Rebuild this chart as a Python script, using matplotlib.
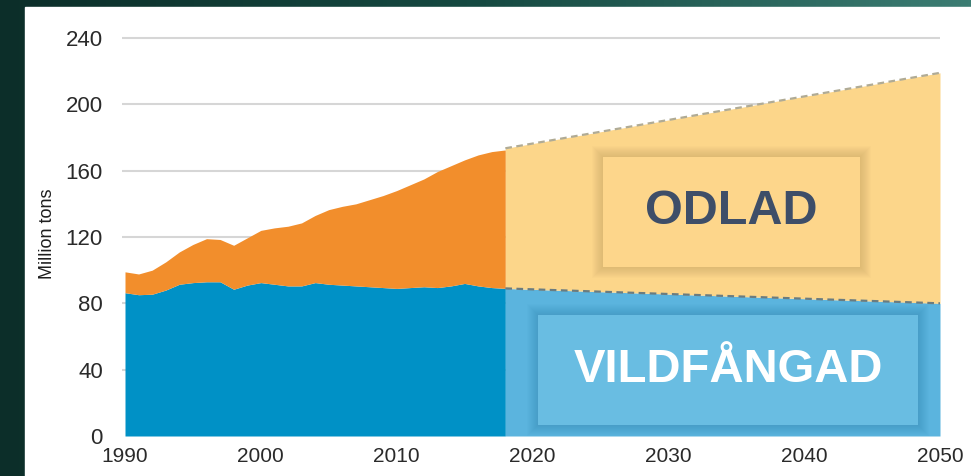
import numpy as np
import matplotlib
matplotlib.use('Agg')
import matplotlib.pyplot as plt
from matplotlib.patches import Rectangle
from matplotlib.colors import LinearSegmentedColormap

# data (million tons)
years = list(range(1990, 2019))
wild = [86.4, 85.2, 85.5, 88.0, 91.5, 92.5, 93.0, 93.0, 88.5, 91.0,
        92.5, 91.5, 90.5, 90.5, 92.5, 91.5, 91.0, 90.5, 90.0, 89.5,
        89.0, 89.5, 90.0, 89.5, 90.5, 92.0, 90.5, 89.5, 89.0]
farmed = [12.6, 12.5, 14.5, 17.0, 19.5, 23.0, 26.0, 25.5, 26.5, 28.5,
          31.5, 34.0, 36.0, 38.0, 40.5, 45.0, 47.5, 49.5, 52.5, 55.5,
          59.0, 62.0, 65.0, 70.0, 72.5, 74.5, 79.0, 82.0, 83.5]

proj_years = [2018, 2050]
proj_wild = [89.0, 80.0]
proj_farmed = [84.5, 139.0]

yticks = [0, 40, 80, 120, 160, 200, 240]
xticks = [1990, 2000, 2010, 2020, 2030, 2040, 2050]

W, H = 971, 476
fig = plt.figure(figsize=(W / 100, H / 100), dpi=100)

# dark green backdrop with a white panel
bg = fig.add_axes([0, 0, 1, 1])
grad = np.linspace(0, 1, 256)[None, :]
cm = LinearSegmentedColormap.from_list('g', ['#0c2e29', '#164a42', '#3c7d73'])
bg.imshow(grad, cmap=cm, aspect='auto', extent=[0, 1, 0, 1])
bg.add_patch(Rectangle((25 / W, 0), 1, 1 - 7 / H, color='white'))
bg.set_xlim(0, 1)
bg.set_ylim(0, 1)
bg.axis('off')

ax = fig.add_axes([125 / W, (H - 436) / H, 815 / W, 398 / H])
ax.set_facecolor('none')
ax.set_xlim(1990, 2050)
ax.set_ylim(0, 240)

for y in yticks[1:]:
    ax.plot([1989.8, 2050], [y, y], color='#d6d6d6', lw=1.5, zorder=0,
            solid_capstyle='butt', clip_on=False)

wild = np.array(wild)
farmed = np.array(farmed)
ax.fill_between(years, 0, wild, color='#0091c6', lw=0, zorder=2)
ax.fill_between(years, wild, wild + farmed, color='#f28e2c', lw=0, zorder=2)

pw = np.array(proj_wild)
pf = np.array(proj_farmed)
ax.fill_between(proj_years, 0, pw, color='#5bb4de', lw=0, zorder=2)
ax.fill_between(proj_years, pw, pw + pf, color='#fcd68a', lw=0, zorder=2)
ax.plot(proj_years, pw + pf, color='#b0ab95', lw=1.6, ls=(0, (3, 2)), zorder=3)
ax.plot(proj_years, pw, color='#6a7c80', lw=1.6, ls=(0, (3, 2)), zorder=3)

# label boxes with soft shadows
px, py = 60 / 815, 240 / 398


def label_box(x0, x1, y0, y1, face, shadow, text, tcolor, size):
    for i in range(11, 0, -1):
        ax.add_patch(Rectangle((x0 - i * px, y0 - i * py),
                               (x1 - x0) + 2 * i * px, (y1 - y0) + 2 * i * py,
                               color=shadow, alpha=0.016, lw=0, zorder=4))
    ax.add_patch(Rectangle((x0, y0), x1 - x0, y1 - y0, color=face, lw=0, zorder=5))
    ax.text((x0 + x1) / 2, (y0 + y1) / 2, text, ha='center', va='center',
            fontsize=size, fontweight='bold', color=tcolor,
            family=['Liberation Sans', 'DejaVu Sans'], zorder=6)


label_box(2025.2, 2044.1, 102.0, 168.4, '#fdd68b', '#6a4a10', 'ODLAD', '#3e4e68', 35)
label_box(2020.4, 2048.4, 6.6, 73.0, '#69bde2', '#0d3f65', 'VILDFÅNGAD', 'white', 34)

for s in ax.spines.values():
    s.set_visible(False)
ax.set_yticks(yticks)
ax.set_xticks(xticks)
ax.tick_params(length=0)
ax.tick_params(axis='y', pad=16)
ax.tick_params(axis='x', pad=8)
for lab in ax.get_yticklabels():
    lab.set_family(['Liberation Sans', 'DejaVu Sans'])
    lab.set_fontsize(16)
    lab.set_color('#2a2a2a')
for lab in ax.get_xticklabels():
    lab.set_family(['Liberation Sans', 'DejaVu Sans'])
    lab.set_fontsize(15)
    lab.set_color('#2a2a2a')

fig.text(47 / W, (H - 234) / H, 'Million tons', rotation=90, ha='center',
         va='center', fontsize=13, color='#1e1e1e',
         family=['Liberation Sans', 'DejaVu Sans'])

fig.savefig('out.png', dpi=100)
